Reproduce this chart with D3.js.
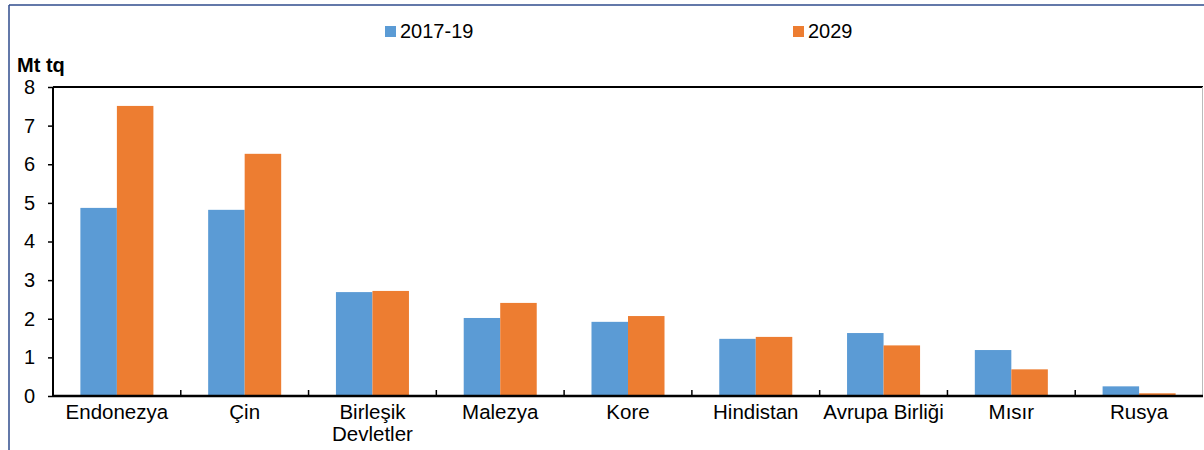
<!DOCTYPE html>
<html>
<head>
<meta charset="utf-8">
<script src="https://cdn.jsdelivr.net/npm/d3@7"></script>
<style>
    body { margin: 0; background: #fff; }
    svg { display: block; font-family: 'Liberation Sans', Arial, sans-serif; }
</style>
</head>
<body>
<div id="chart"></div>
<script>
// chart values
var countries = [['Endonezya'], ['Çin'], ['Birleşik', 'Devletler'], ['Malezya'], ['Kore'],
                 ['Hindistan'], ['Avrupa Birliği'], ['Mısır'], ['Rusya']];
var seriesNames = ['2017-19', '2029'];
var base = [4.87, 4.82, 2.69, 2.02, 1.92, 1.48, 1.63, 1.19, 0.25];
var future = [7.51, 6.27, 2.72, 2.41, 2.07, 1.53, 1.31, 0.69, 0.07];
var yTicks = [0, 1, 2, 3, 4, 5, 6, 7, 8];

var BarChart = function (selector) {
    var _width = 1204,
        _height = 450,
        _colors = ['#5b9bd5', '#ed7d31'],
        _margin = {left: 53, top: 87, right: 1, bottom: 54};

    var _svg = d3.select(selector).append('svg')
        .attr('width', _width).attr('height', _height);

    var names = countries.map(function (c) { return c.join(' '); });

    var _x = d3.scaleBand()
        .domain(names)
        .range([_margin.left, _width - _margin.right])
        .paddingInner(0)
        .paddingOuter(0);

    var _inner = d3.scaleBand()
        .domain(seriesNames)
        .range([0, _x.bandwidth()])
        .paddingInner(0)
        .paddingOuter(0.75);

    var _y = d3.scaleLinear()
        .domain([0, 8])
        .range([_height - _margin.bottom, _margin.top]);

    // outer frame
    _svg.append('line').attr('x1', 9).attr('x2', 9).attr('y1', 5).attr('y2', _height)
        .attr('stroke', '#2f4b8c').attr('stroke-width', 1.5);
    _svg.append('line').attr('x1', 9).attr('x2', _width).attr('y1', 5).attr('y2', 5)
        .attr('stroke', '#2f4b8c').attr('stroke-width', 1.5);

    // plot border top/right
    _svg.append('line').attr('x1', _margin.left).attr('x2', _width - _margin.right)
        .attr('y1', _y(8)).attr('y2', _y(8))
        .attr('stroke', '#000').attr('stroke-width', 2);
    _svg.append('line').attr('x1', _width - 1.5).attr('x2', _width - 1.5)
        .attr('y1', _y(8)).attr('y2', _y(0))
        .attr('stroke', '#bbb').attr('stroke-width', 1);

    var data = names.map(function (n, i) {
        return {name: n, values: [base[i], future[i]]};
    });

    var groups = _svg.append('g').selectAll('g')
        .data(data).enter().append('g')
        .attr('transform', function (d) { return 'translate(' + _x(d.name) + ',0)'; });

    groups.selectAll('rect')
        .data(function (d) {
            return d.values.map(function (v, j) { return {key: seriesNames[j], value: v, idx: j}; });
        })
        .enter().append('rect')
        .attr('x', function (d) { return _inner(d.key); })
        .attr('width', _inner.bandwidth())
        .attr('y', function (d) { return _y(d.value); })
        .attr('height', function (d) { return _y(0) - _y(d.value); })
        .attr('fill', function (d) { return _colors[d.idx]; });

    // y axis
    var yAxis = d3.axisLeft(_y).tickValues(yTicks).tickSize(5).tickSizeOuter(0).tickPadding(13);
    var yG = _svg.append('g')
        .attr('transform', 'translate(' + _margin.left + ',0)')
        .call(yAxis);
    yG.select('.domain').attr('stroke', '#000').attr('stroke-width', 2)
        .attr('d', 'M0,' + _y(8) + 'V' + _y(0));
    yG.selectAll('.tick line').attr('stroke', '#000').attr('stroke-width', 1.5);
    yG.selectAll('text').attr('font-size', 20).attr('fill', '#000')
        .attr('font-family', "'Liberation Sans', Arial, sans-serif");

    // x axis baseline with ticks between categories
    _svg.append('line')
        .attr('x1', _margin.left).attr('x2', _width - _margin.right)
        .attr('y1', _y(0)).attr('y2', _y(0))
        .attr('stroke', '#000').attr('stroke-width', 2.5);
    _svg.append('g').selectAll('line')
        .data(names.slice(1)).enter().append('line')
        .attr('x1', function (d) { return _x(d); })
        .attr('x2', function (d) { return _x(d); })
        .attr('y1', _y(0)).attr('y2', _y(0) - 6)
        .attr('stroke', '#000').attr('stroke-width', 1.5);

    var labels = _svg.append('g').selectAll('text')
        .data(countries).enter().append('text')
        .attr('text-anchor', 'middle')
        .attr('font-size', 20.5)
        .attr('fill', '#000')
        .attr('transform', function (d, i) {
            return 'translate(' + (_x(names[i]) + _x.bandwidth() / 2) + ',' + (_y(0) + 23) + ')';
        });
    labels.selectAll('tspan')
        .data(function (d) { return d; })
        .enter().append('tspan')
        .attr('x', 0)
        .attr('dy', function (d, i) { return i === 0 ? 0 : 22; })
        .text(function (d) { return d; });

    // unit label
    _svg.append('text')
        .attr('x', 17).attr('y', 72)
        .attr('font-size', 20).attr('font-weight', 'bold')
        .text('Mt tq');

    // legend
    var legendX = [385, 793];
    var legend = _svg.append('g').selectAll('g')
        .data(seriesNames).enter().append('g')
        .attr('transform', function (d, i) { return 'translate(' + legendX[i] + ',26)'; });
    legend.append('rect')
        .attr('width', 11).attr('height', 11)
        .attr('fill', function (d, i) { return _colors[i]; });
    legend.append('text')
        .attr('x', 15).attr('y', 12)
        .attr('font-size', 20)
        .text(function (d) { return d; });
};

BarChart('#chart');
</script>
</body>
</html>
